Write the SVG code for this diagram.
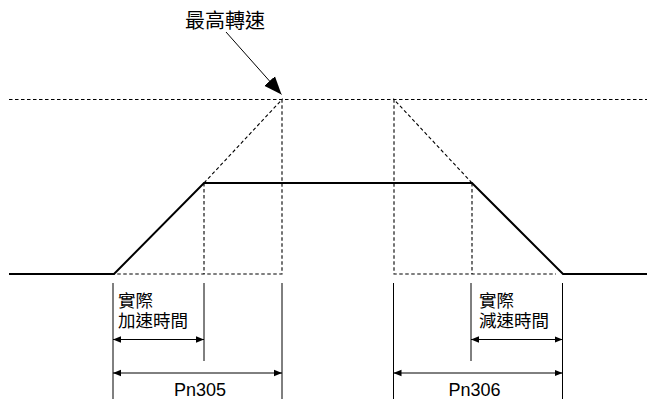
<svg xmlns="http://www.w3.org/2000/svg" width="647" height="399" viewBox="0 0 647 399">
<style>
.solid{fill:none;stroke:#000;stroke-width:2;stroke-linejoin:miter}
.dash{fill:none;stroke:#000;stroke-width:1.1;stroke-dasharray:3.5,2.5}
.thin{fill:none;stroke:#000;stroke-width:1}
.t{font-family:"Liberation Sans","Noto Sans CJK TC",sans-serif;fill:#000}
</style>
<defs>
<marker id="ah" viewBox="0 0 10 10" refX="10" refY="5" markerWidth="8" markerHeight="8" markerUnits="userSpaceOnUse" orient="auto-start-reverse">
<path d="M0,1 L10,5 L0,9 Z" fill="#000"/>
</marker>
<marker id="big" viewBox="0 0 10 10" refX="10" refY="5" markerWidth="18" markerHeight="18" markerUnits="userSpaceOnUse" orient="auto">
<path d="M0,1 L10,5 L0,9 Z" fill="#000"/>
</marker>
</defs>
<g id="guides">
<line class="dash" x1="9" y1="99.5" x2="647" y2="99.5"/>
<polyline class="dash" points="204,183 282,99.5 282,274 114,274"/>
<line class="dash" x1="204" y1="183" x2="204" y2="274"/>
<polyline class="dash" points="472,183 394,99.5 394,274 556,274"/>
<line class="dash" x1="472" y1="183" x2="472" y2="274"/>
</g>
<g id="curve">
<polyline class="solid" points="9,274 114,274 204,183 472,183 563,274 647,274"/>
</g>
<g id="connectors">
<line class="thin" x1="226" y1="32" x2="281.5" y2="94.5" marker-end="url(#big)" stroke-width="1.3"/>
<line class="thin" x1="113" y1="283" x2="113" y2="399"/>
<line class="thin" x1="204" y1="283" x2="204" y2="361"/>
<line class="thin" x1="282" y1="283" x2="282" y2="399"/>
<line class="thin" x1="393.5" y1="283" x2="393.5" y2="399"/>
<line class="thin" x1="471" y1="283" x2="471" y2="361"/>
<line class="thin" x1="562.5" y1="283" x2="562.5" y2="399"/>
<line class="thin" x1="113" y1="339.5" x2="204" y2="339.5" marker-start="url(#ah)" marker-end="url(#ah)"/>
<line class="thin" x1="113" y1="373" x2="282" y2="373" marker-start="url(#ah)" marker-end="url(#ah)"/>
<line class="thin" x1="471" y1="339.5" x2="562.5" y2="339.5" marker-start="url(#ah)" marker-end="url(#ah)"/>
<line class="thin" x1="393.5" y1="373" x2="562.5" y2="373" marker-start="url(#ah)" marker-end="url(#ah)"/>
</g>
<g id="labels">
<text class="t" x="185" y="28" font-size="20">最高轉速</text>
<text class="t" font-size="17.5"><tspan x="118" y="307">實際</tspan><tspan x="118" y="327">加速時間</tspan></text>
<text class="t" font-size="17.5"><tspan x="479" y="307">實際</tspan><tspan x="479" y="327">減速時間</tspan></text>
<text class="t" x="200" y="395.5" font-size="18" text-anchor="middle">Pn305</text>
<text class="t" x="474.5" y="395.5" font-size="18" text-anchor="middle">Pn306</text>
</g>
</svg>
